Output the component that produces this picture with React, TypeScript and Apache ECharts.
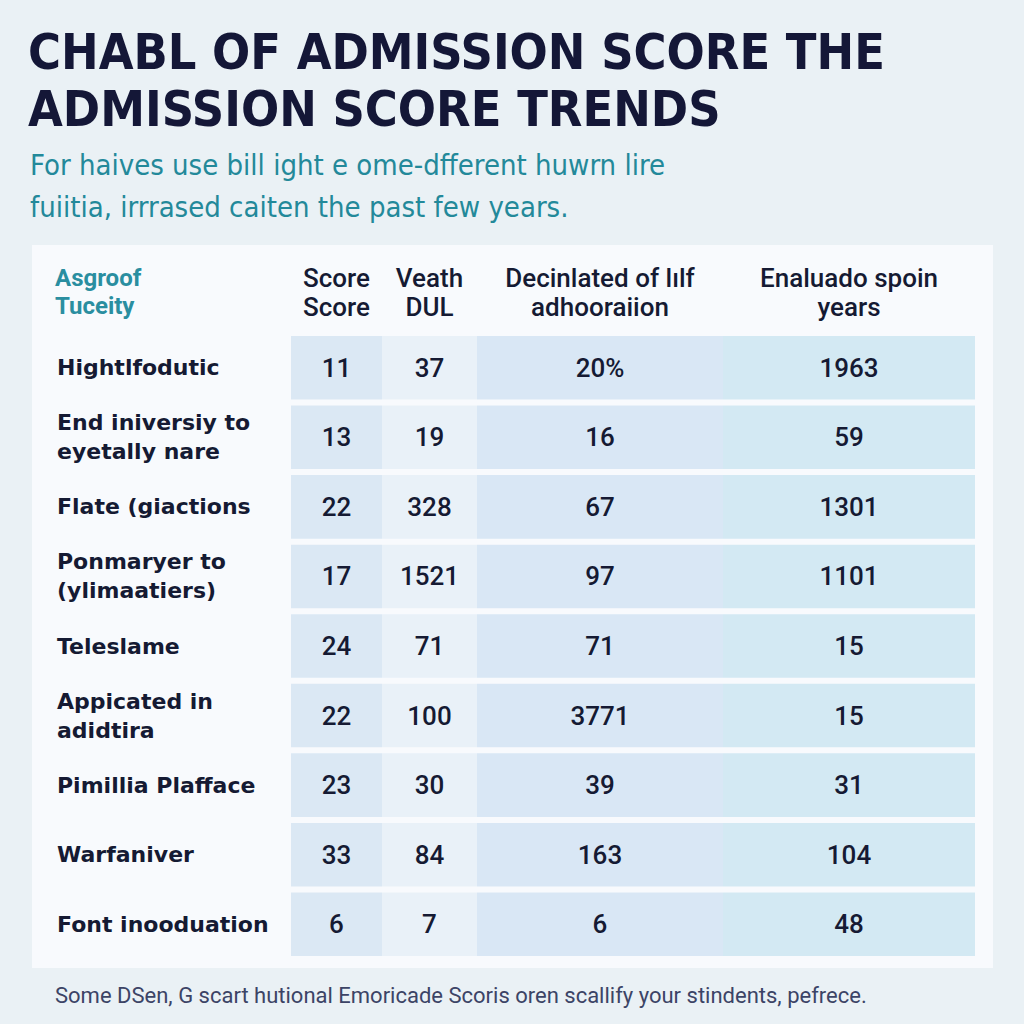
import React, { useEffect, useRef } from "react";
import * as echarts from "echarts";

const titleLines = ["CHABL OF ADMISSION SCORE THE", "ADMISSION SCORE TRENDS"];
const subtitleLines = [
  "For haives use bill ight e ome-dfferent huwrn lire",
  "fuiitia, irrrased caiten the past few years.",
];
const rowHeaderLines = ["Asgroof", "Tuceity"];
const footnote =
  "Some DSen, G scart hutional Emoricade Scoris oren scallify your stindents, pefrece.";

const rowLabels = [
  "Hightlfodutic",
  "End iniversiy to\neyetally nare",
  "Flate (giactions",
  "Ponmaryer to\n(ylimaatiers)",
  "Teleslame",
  "Appicated in\nadidtira",
  "Pimillia Plafface",
  "Warfaniver",
  "Font inooduation",
];

const colHeaders = [
  "Score\nScore",
  "Veath\nDUL",
  "Decinlated of lılf\nadhooraiion",
  "Enaluado spoin\nyears",
];

const scoreValues: (number | string)[] = [11, 13, 22, 17, 24, 22, 23, 33, 6];
const veathValues: (number | string)[] = [37, 19, 328, 1521, 71, 100, 30, 84, 7];
const decinlatedValues: (number | string)[] = ["20%", 16, 67, 97, 71, 3771, 39, 163, 6];
const enaluadoValues: (number | string)[] = [1963, 59, 1301, 1101, 15, 15, 31, 104, 48];

const columnValues = [scoreValues, veathValues, decinlatedValues, enaluadoValues];

// layout (pixels) and styles
const columnLayout = [
  { left: 291, width: 91, fill: "#dbe8f4" },
  { left: 382, width: 95, fill: "#e9f1f8" },
  { left: 477, width: 246, fill: "#d9e7f5" },
  { left: 723, width: 252, fill: "#d3e9f3" },
];
const gridTop = 333;
const gridHeight = 626;
const rowGap = 6;

export default function App() {
  const ref = useRef<HTMLDivElement>(null);

  useEffect(() => {
    if (!ref.current) return;
    const chart = echarts.init(ref.current, undefined, { renderer: "svg" });

    const grids = columnLayout.map((c) => ({
      left: c.left,
      width: c.width,
      top: gridTop,
      height: gridHeight,
      containLabel: false,
      outerBoundsMode: "none",
    }));

    const xAxes = columnLayout.map((_, i) => ({
      type: "category",
      gridIndex: i,
      position: "top",
      data: [colHeaders[i]],
      axisLine: { show: false },
      axisTick: { show: false },
      splitLine: { show: false },
      axisLabel: {
        interval: 0,
        margin: 12,
        color: "#151a33",
        fontFamily: "Roboto",
        fontWeight: 500,
        fontSize: 26,
        lineHeight: 29,
      },
    }));

    const yAxes = columnLayout.map((_, i) => ({
      type: "category",
      gridIndex: i,
      inverse: true,
      data: rowLabels,
      axisLine: { show: false },
      axisTick: { show: false },
      splitLine: { show: false },
      axisLabel:
        i === 0
          ? {
              show: true,
              interval: 0,
              align: "left",
              margin: 234,
              color: "#151a33",
              fontFamily: "DejaVu Sans",
              fontWeight: "bold",
              fontSize: 22,
              lineHeight: 29,
            }
          : { show: false },
    }));

    const series = columnLayout.map((col, i) => ({
      type: "custom",
      xAxisIndex: i,
      yAxisIndex: i,
      data: rowLabels.map((_, r) => [0, r]),
      renderItem: (params: any, api: any) => {
        const r = api.value(1);
        const p = api.coord([0, r]);
        const s = api.size([1, 1]);
        const text = String(columnValues[i][params.dataIndex]);
        return {
          type: "group",
          children: [
            {
              type: "rect",
              shape: {
                x: p[0] - s[0] / 2,
                y: p[1] - s[1] / 2 + rowGap / 2,
                width: s[0],
                height: s[1] - rowGap,
              },
              style: { fill: col.fill },
            },
            {
              type: "text",
              x: p[0],
              y: p[1],
              style: {
                text,
                fill: "#151a33",
                fontFamily: "Roboto",
                fontWeight: 500,
                fontSize: 26,
                align: "center",
                verticalAlign: "middle",
              },
            },
          ],
        };
      },
    }));

    chart.setOption({
      animation: false,
      backgroundColor: "#eaf1f5",
      title: [
        {
          text: titleLines.join("\n"),
          left: 28,
          top: 23,
          padding: 0,
          textStyle: {
            color: "#141737",
            fontFamily: "DejaVu Sans Condensed",
            fontWeight: "bold",
            fontSize: 50,
            lineHeight: 57,
          },
        },
        {
          text: subtitleLines.join("\n"),
          left: 30,
          top: 144,
          padding: 0,
          textStyle: {
            color: "#23899a",
            fontFamily: "Liberation Sans Narrow, DejaVu Sans Condensed",
            fontWeight: "normal",
            fontSize: 29,
            lineHeight: 42,
          },
        },
        {
          text: rowHeaderLines.join("\n"),
          left: 55,
          top: 264,
          padding: 0,
          textStyle: {
            color: "#2a8ea0",
            fontFamily: "Roboto",
            fontWeight: "bold",
            fontSize: 24,
            lineHeight: 28,
          },
        },
        {
          text: footnote,
          left: 55,
          top: 983,
          padding: 0,
          textStyle: {
            color: "#3c4466",
            fontFamily: "Roboto",
            fontWeight: "normal",
            fontSize: 22,
            lineHeight: 24,
          },
        },
      ],
      graphic: [
        {
          type: "rect",
          z: -10,
          shape: { x: 32, y: 245, width: 961, height: 723 },
          style: { fill: "#f8fafd" },
          silent: true,
        },
      ],
      grid: grids,
      xAxis: xAxes,
      yAxis: yAxes,
      series,
    } as any);

    return () => chart.dispose();
  }, []);

  return (
    <div
      ref={ref}
      style={{ position: "absolute", left: 0, top: 0, width: 1024, height: 1024 }}
    />
  );
}
